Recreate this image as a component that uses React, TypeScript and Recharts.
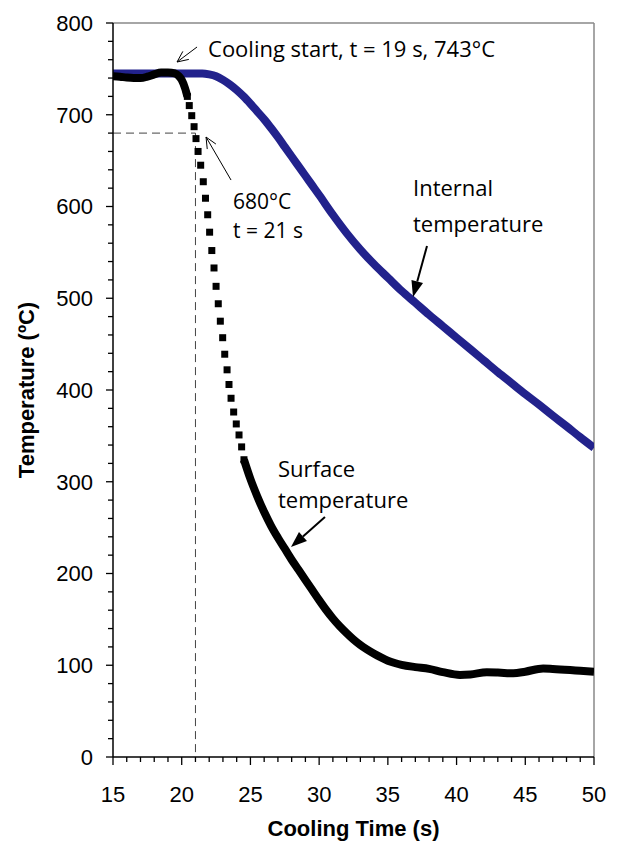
import React from 'react';
import {
  ComposedChart,
  Line,
  Scatter,
  XAxis,
  YAxis,
  ReferenceLine,
  ReferenceDot,
  Label,
} from 'recharts';

const AXIS_FONT = '"Liberation Sans", Arial, sans-serif';
const NOTE_FONT = '"Open Sans", sans-serif';

// internal (core) temperature
const internalTime = [
  15, 16, 17, 18, 19, 20, 21, 21.5, 22, 22.5, 23, 23.5, 24, 24.5, 25, 25.5, 26, 26.5, 27, 27.5, 28,
  28.5, 29, 29.5, 30, 31, 32, 33, 34, 35, 36, 37, 38, 39, 40, 41, 42, 43, 44, 45, 46, 47, 48, 49, 50,
];
const internalTemp = [
  745, 745, 745, 745, 745, 745, 745, 745, 744, 742, 738, 733, 727, 720, 712, 703.5, 695, 685.5, 675.5,
  665, 654.5, 644, 633.5, 623, 612.5, 591, 571, 553, 537, 522.5, 508, 495, 482, 469.5, 457, 444.5,
  432, 419.5, 407.5, 395.5, 384, 372, 360.5, 348.5, 337,
];

// surface temperature before the quench
const surfaceStartTime = [15, 15.5, 16, 16.5, 17, 17.5, 18, 18.5, 19, 19.5, 19.8, 20, 20.24, 20.41];
const surfaceStartTemp = [742, 741.5, 740.5, 740, 740, 741.5, 744, 746, 746, 745, 742, 738, 729, 720];

// surface samples during the fast drop (drawn as separate squares)
const surfaceDropTime = [
  20.41, 20.55, 20.73, 20.9, 21.04, 21.19, 21.38, 21.57, 21.73, 21.89, 22.03, 22.19, 22.35, 22.5,
  22.66, 22.81, 22.98, 23.13, 23.3, 23.44, 23.59, 23.78, 23.97, 24.17, 24.36, 24.53,
];
const surfaceDropTemp = [
  720, 710, 699, 687, 674, 660, 645, 627, 609, 591, 572, 552, 533, 513, 494, 475, 457, 439, 422, 406,
  391, 376, 363, 351, 338, 324,
];

// surface temperature after the fast drop
const surfaceTailTime = [
  24.53, 25, 25.5, 26, 26.5, 27, 27.5, 28, 28.5, 29, 29.5, 30, 30.5, 31, 31.5, 32, 32.5, 33, 33.5,
  34, 34.5, 35, 35.5, 36, 37, 38, 39, 40.25, 41, 42.2, 43, 44.13, 45, 46.3, 47, 48.26, 49, 50,
];
const surfaceTailTemp = [
  324, 303, 284, 267, 252, 239, 227, 215, 204, 193, 182, 171, 160.5, 151, 142.5, 135, 128, 122, 117,
  112.5, 108.5, 105, 102.5, 100.5, 98, 96, 92.5, 89.5, 90, 92.3, 92, 91.2, 93, 96.5, 96, 94.8, 94, 93,
];

const xMajor = [15, 20, 25, 30, 35, 40, 45, 50];
const yMajor = [0, 100, 200, 300, 400, 500, 600, 700, 800];
const xTicks = Array.from({ length: 36 }, (_, i) => 15 + i);
const yTicks = Array.from({ length: 41 }, (_, i) => i * 20);

const toRows = (ts: number[], vs: number[]) => ts.map((t, i) => ({ t, temp: vs[i] }));
const internalData = toRows(internalTime, internalTemp);
const surfaceStart = toRows(surfaceStartTime, surfaceStartTemp);
const surfaceDrop = toRows(surfaceDropTime, surfaceDropTemp);
const surfaceTail = toRows(surfaceTailTime, surfaceTailTemp);

const XTick = (props: any) => {
  const { x, y, payload } = props;
  const major = xMajor.includes(payload.value);
  return (
    <g>
      <line x1={x} x2={x} y1={y} y2={y + (major ? 8 : 5)} stroke="#000" strokeWidth={1.3} />
      {major && (
        <text x={x} y={y + 45} textAnchor="middle" fontFamily={AXIS_FONT} fontSize={22} fill="#000">
          {payload.value}
        </text>
      )}
    </g>
  );
};

const YTick = (props: any) => {
  const { x, y, payload } = props;
  const major = yMajor.includes(payload.value);
  return (
    <g>
      <line x1={x - (major ? 7 : 5)} x2={x} y1={y} y2={y} stroke="#000" strokeWidth={1.3} />
      {major && (
        <text x={x - 20} y={y} dy="0.36em" textAnchor="end" fontFamily={AXIS_FONT} fontSize={22} fill="#000">
          {payload.value}
        </text>
      )}
    </g>
  );
};

const XTitle = (props: any) => {
  const vb = props.viewBox || {};
  return (
    <text
      x={vb.x + vb.width / 2}
      y={vb.y + vb.height - 12}
      textAnchor="middle"
      fontFamily={AXIS_FONT}
      fontWeight="bold"
      fontSize={22}
      fill="#000"
    >
      Cooling Time (s)
    </text>
  );
};

const YTitle = (props: any) => {
  const vb = props.viewBox || {};
  const cx = 26;
  const cy = vb.y + vb.height / 2;
  return (
    <text
      x={cx}
      y={cy}
      dy="0.36em"
      transform={`rotate(-90 ${cx} ${cy})`}
      textAnchor="middle"
      fontFamily={AXIS_FONT}
      fontWeight="bold"
      fontSize={22}
      fill="#000"
    >
      Temperature (ºC)
    </text>
  );
};

const SquareMark = (props: any) => {
  const { cx, cy } = props;
  return <rect x={cx - 3.5} y={cy - 3.5} width={7} height={7} fill="#000" />;
};

// arrow drawn from tail (dx, dy relative to tip) to the tip at (x, y)
function arrow(x: number, y: number, dx: number, dy: number, filled: boolean) {
  const tx = x + dx;
  const ty = y + dy;
  const ang = Math.atan2(y - ty, x - tx);
  const c = Math.cos(ang);
  const s = Math.sin(ang);
  const len = filled ? 16 : 11;
  const half = filled ? 6 : 5;
  const bx = x - len * c;
  const by = y - len * s;
  const lx = bx - half * s;
  const ly = by + half * c;
  const rx = bx + half * s;
  const ry = by - half * c;
  if (filled) {
    return (
      <g>
        <line x1={tx} y1={ty} x2={bx} y2={by} stroke="#000" strokeWidth={2} />
        <polygon points={`${x},${y} ${lx},${ly} ${rx},${ry}`} fill="#000" />
      </g>
    );
  }
  return (
    <g fill="none" stroke="#000" strokeWidth={1}>
      <line x1={tx} y1={ty} x2={x} y2={y} />
      <polyline points={`${lx},${ly} ${x},${y} ${rx},${ry}`} />
    </g>
  );
}

const noteText = (x: number, y: number, s: string, size = 22) => (
  <text x={x} y={y} fontFamily={NOTE_FONT} fontSize={size} fill="#000">
    {s}
  </text>
);

const CoolingStartNote = (p: any) => (
  <g>
    {arrow(p.cx, p.cy, 20, -15, false)}
    {noteText(p.cx + 31, p.cy - 5, 'Cooling start, t = 19 s, 743°C')}
  </g>
);

const PointNote = (p: any) => (
  <g>
    {arrow(p.cx, p.cy, 25, 43, false)}
    {noteText(p.cx + 27, p.cy + 72, '680°C', 21)}
    {noteText(p.cx + 27, p.cy + 101, 't = 21 s', 21)}
  </g>
);

const InternalNote = (p: any) => (
  <g>
    {arrow(p.cx, p.cy, 14, -51, true)}
    {noteText(p.cx, p.cy - 101, 'Internal')}
    {noteText(p.cx, p.cy - 65, 'temperature')}
  </g>
);

const SurfaceNote = (p: any) => (
  <g>
    {arrow(p.cx, p.cy, 34, -30, true)}
    {noteText(p.cx - 13, p.cy - 70, 'Surface')}
    {noteText(p.cx - 13, p.cy - 39, 'temperature')}
  </g>
);

export default function App() {
  return (
    <div style={{ position: 'absolute', left: 0, top: 0, background: '#fff' }}>
      <ComposedChart width={617} height={848} margin={{ top: 23, right: 23, bottom: 0, left: 0 }}>
        <XAxis
          type="number"
          dataKey="t"
          domain={[15, 50]}
          ticks={xTicks}
          interval={0}
          allowDataOverflow
          height={91}
          tickSize={0}
          tickMargin={0}
          tickLine={false}
          tick={<XTick />}
          axisLine={{ stroke: '#000', strokeWidth: 1.5 }}
        >
          <Label content={XTitle} />
        </XAxis>
        <YAxis
          type="number"
          domain={[0, 800]}
          ticks={yTicks}
          interval={0}
          allowDataOverflow
          width={113}
          tickSize={0}
          tickMargin={0}
          tickLine={false}
          tick={<YTick />}
          axisLine={{ stroke: '#000', strokeWidth: 1.5 }}
        >
          <Label content={YTitle} />
        </YAxis>

        <ReferenceLine y={800} stroke="#888" strokeWidth={1.5} />
        <ReferenceLine x={50} stroke="#888" strokeWidth={1.5} />
        <ReferenceLine
          segment={[
            { x: 15, y: 680 },
            { x: 21, y: 680 },
          ]}
          stroke="#444"
          strokeWidth={1}
          strokeDasharray="8 5"
        />
        <ReferenceLine
          segment={[
            { x: 21, y: 680 },
            { x: 21, y: 0 },
          ]}
          stroke="#444"
          strokeWidth={1}
          strokeDasharray="8 5"
        />

        <Line
          data={internalData}
          dataKey="temp"
          type="monotone"
          stroke="#22228C"
          strokeWidth={8}
          dot={false}
          activeDot={false}
          isAnimationActive={false}
        />
        <Line
          data={surfaceStart}
          dataKey="temp"
          type="monotone"
          stroke="#000"
          strokeWidth={8}
          dot={false}
          activeDot={false}
          isAnimationActive={false}
        />
        <Scatter data={surfaceDrop} dataKey="temp" shape={SquareMark} isAnimationActive={false} />
        <Line
          data={surfaceTail}
          dataKey="temp"
          type="monotone"
          stroke="#000"
          strokeWidth={8}
          dot={false}
          activeDot={false}
          isAnimationActive={false}
        />

        <ReferenceDot x={19.66} y={757.5} r={0} shape={CoolingStartNote} />
        <ReferenceDot x={21.77} y={675.7} r={0} shape={PointNote} />
        <ReferenceDot x={36.83} y={501.4} r={0} shape={InternalNote} />
        <ReferenceDot x={27.95} y={228.9} r={0} shape={SurfaceNote} />
      </ComposedChart>
    </div>
  );
}
